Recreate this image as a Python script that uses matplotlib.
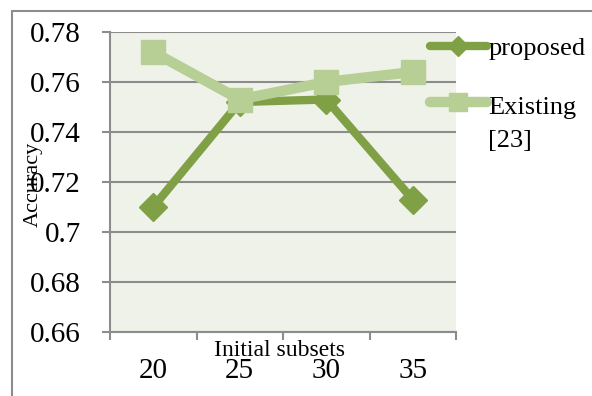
import matplotlib
matplotlib.use("Agg")
import matplotlib.pyplot as plt
from matplotlib.patches import Rectangle
from matplotlib.legend_handler import HandlerLine2D

categories = ["20", "25", "30", "35"]
proposed = [0.710, 0.752, 0.753, 0.713]
existing = [0.772, 0.753, 0.760, 0.764]
yticks = [0.66, 0.68, 0.70, 0.72, 0.74, 0.76, 0.78]
ytick_labels = ["0.66", "0.68", "0.7", "0.72", "0.74", "0.76", "0.78"]

plt.rcParams["font.family"] = ["Liberation Serif", "DejaVu Serif"]


class RaisedLineHandler(HandlerLine2D):
    """Line handler that sits level with the first line of a two-line label."""

    def __init__(self, raise_pts=0.0, **kw):
        super().__init__(**kw)
        self.raise_pts = raise_pts

    def create_artists(self, legend, orig_handle, xdescent, ydescent, width,
                       height, fontsize, trans):
        return super().create_artists(legend, orig_handle, xdescent,
                                      ydescent - 2 * self.raise_pts, width,
                                      height, fontsize, trans)


W, H = 592, 396
fig = plt.figure(figsize=(W / 100, H / 100), dpi=100)
fig.patch.set_facecolor("white")

# outer chart frame (runs off the right and bottom edges)
frame = Rectangle((12 / W, -0.05), 1.2, 1 - 11 / H + 0.05, transform=fig.transFigure,
                  fill=False, edgecolor="#8c8c8c", linewidth=1.5)
fig.add_artist(frame)

ax = fig.add_axes([110 / W, 1 - 332 / H, (456 - 110) / W, (332 - 32) / H])
ax.set_facecolor("#eff2e8")

x = list(range(len(categories)))
c_prop = "#80a046"
c_exist = "#b7ce95"

h_exist, = ax.plot(x, existing, color=c_exist, linewidth=7.5, marker="s", markersize=17,
                   markerfacecolor=c_exist, markeredgecolor=c_exist,
                   solid_capstyle="round", zorder=3)
h_prop, = ax.plot(x, proposed, color=c_prop, linewidth=6, marker="D", markersize=14,
                  markerfacecolor=c_prop, markeredgecolor=c_prop,
                  solid_capstyle="round", zorder=2)

ax.set_xlim(-0.5, len(categories) - 0.5)
ax.set_ylim(0.66, 0.78)
ax.set_yticks(yticks)
ax.set_yticklabels(ytick_labels, fontsize=21)
ax.yaxis.grid(True, color="#8c8c8c", linewidth=1.5)
ax.set_axisbelow(True)

ax.set_xticks([i - 0.5 for i in range(len(categories) + 1)])
ax.set_xticklabels([])
ax.set_xticks(x, minor=True)
ax.set_xticklabels(categories, minor=True, fontsize=21)
ax.tick_params(axis="x", which="major", length=6, width=1.5, color="#8c8c8c")
ax.tick_params(axis="x", which="minor", length=0, pad=19)
ax.tick_params(axis="y", length=6, width=1.5, color="#8c8c8c", pad=15)

for s in ["top", "right"]:
    ax.spines[s].set_visible(False)
for s in ["left", "bottom"]:
    ax.spines[s].set_color("#8c8c8c")
    ax.spines[s].set_linewidth(1.5)

fig.text(280 / W, 1 - 351 / H, "Initial subsets", ha="center", va="center", fontsize=17)
fig.text(33 / W, 1 - 184 / H, "Accuracy", ha="center", va="center", rotation=90, fontsize=16)

leg = fig.legend([h_prop, h_exist], ["proposed", "Existing\n[23]"],
                 loc="upper left", bbox_to_anchor=(430 / W, 1 - 37 / H),
                 frameon=False, fontsize=19, borderpad=0, borderaxespad=0,
                 handlelength=2.15, handletextpad=0.05,
                 labelspacing=1.4, markerscale=0.75,
                 handler_map={h_exist: RaisedLineHandler(raise_pts=16)})
for t in leg.get_texts():
    t.set_linespacing(1.65)

fig.savefig("out.png", dpi=100)
